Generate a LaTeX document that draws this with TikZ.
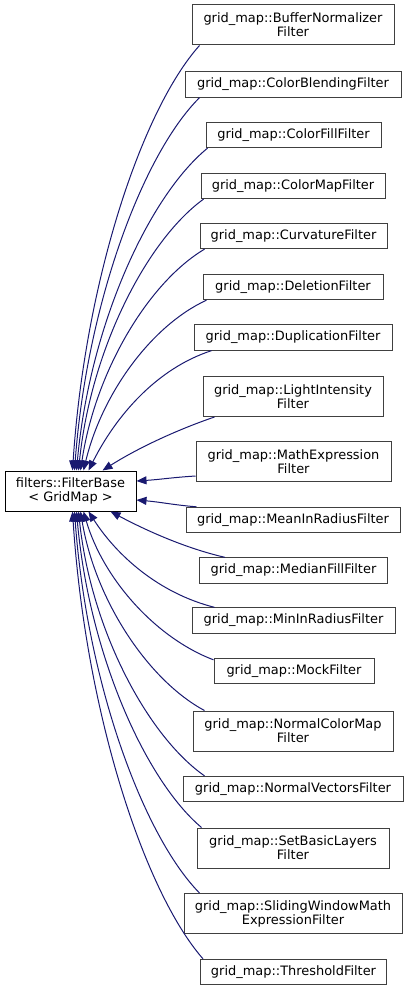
\documentclass[tikz,border=0pt]{standalone}
\usepackage{fontspec}
\setmainfont{DejaVu Sans}
\usetikzlibrary{calc,arrows.meta}
\definecolor{edgeblue}{HTML}{191970}
\definecolor{boxgray}{HTML}{404040}
\newcommand\inhedge[6]{%
  \draw[inh] let \p1=(#1), \p2=(#2) in (\p1) .. controls ({\x1+#3*(\x2-\x1)},{\y1+#4*(\y2-\y1)}) and ({\x2+#5*(\x1-\x2)},{\y2+#6*(\y1-\y2)}) .. (\p2);}
\begin{document}
\begin{tikzpicture}[x=0.75pt,y=-0.75pt,
  cls/.style={draw=boxgray, line width=0.75pt, fill=white, inner sep=0pt, align=center,
    font=\fontsize{9.7}{10.6}\selectfont, minimum height=19pt},
  two/.style={minimum height=30pt},
  inh/.style={draw=edgeblue, line width=0.75pt, -{Triangle[length=7.5pt,width=6pt]}}]
\useasboundingbox (0,0) rectangle (408,991);
\node[cls, draw=black, two, minimum width=98.25pt] (base) at (70.5,491) {filters::FilterBase\\< GridMap >};
\node[cls, two, minimum width=151.5pt] (b1) at (293,25) {grid\_map::BufferNormalizer\\Filter};
\node[cls, minimum width=162pt] (b2) at (293,84.5) {grid\_map::ColorBlendingFilter};
\node[cls, minimum width=131.25pt] (b3) at (293.5,135) {grid\_map::ColorFillFilter};
\node[cls, minimum width=138pt] (b4) at (293,186) {grid\_map::ColorMapFilter};
\node[cls, minimum width=140.25pt] (b5) at (293.5,236) {grid\_map::CurvatureFilter};
\node[cls, minimum width=135pt] (b6) at (293,287) {grid\_map::DeletionFilter};
\node[cls, minimum width=148.5pt] (b7) at (293,337.5) {grid\_map::DuplicationFilter};
\node[cls, two, minimum width=135pt] (b8) at (293,396.5) {grid\_map::LightIntensity\\Filter};
\node[cls, two, minimum width=146.25pt] (b9) at (293.5,461.5) {grid\_map::MathExpression\\Filter};
\node[cls, minimum width=160.5pt] (b10) at (293,520) {grid\_map::MeanInRadiusFilter};
\node[cls, minimum width=141pt] (b11) at (293.5,570.5) {grid\_map::MedianFillFilter};
\node[cls, minimum width=152.25pt] (b12) at (293.5,620.5) {grid\_map::MinInRadiusFilter};
\node[cls, minimum width=120pt] (b13) at (294,671) {grid\_map::MockFilter};
\node[cls, two, minimum width=150pt] (b14) at (293,731) {grid\_map::NormalColorMap\\Filter};
\node[cls, minimum width=165pt] (b15) at (293,789) {grid\_map::NormalVectorsFilter};
\node[cls, two, minimum width=144pt] (b16) at (293,848) {grid\_map::SetBasicLayers\\Filter};
\node[cls, two, minimum width=163.5pt] (b17) at (293,913.5) {grid\_map::SlidingWindowMath\\ExpressionFilter};
\node[cls, minimum width=139.5pt] (b18) at (293.5,972) {grid\_map::ThresholdFilter};
% edges
\inhedge{$(b1.south west)+(8,0)$}{$(base.north west)+(68,0)$}{0.45}{0.15}{0.1}{0.45}
\inhedge{$(b2.south west)+(15,0)$}{$(base.north west)+(70,0)$}{0.45}{0.15}{0.1}{0.45}
\inhedge{$(b3.south west)+(2,0)$}{$(base.north west)+(72,0)$}{0.45}{0.15}{0.1}{0.45}
\inhedge{$(b4.south west)+(3,0)$}{$(base.north west)+(74,0)$}{0.45}{0.15}{0.1}{0.45}
\inhedge{$(b5.south west)+(5,0)$}{$(base.north west)+(76,0)$}{0.45}{0.15}{0.12}{0.45}
\inhedge{$(b6.south west)+(4,0)$}{$(base.north west)+(79,0)$}{0.45}{0.15}{0.15}{0.45}
\inhedge{$(b7.south west)+(18,0)$}{$(base.north west)+(84,0)$}{0.45}{0.15}{0.22}{0.45}
\inhedge{$(b8.south west)+(12,0)$}{$(base.north west)+(98,0)$}{0.35}{0.25}{0.3}{0.4}
\inhedge{$(b9.south west)+(0,-6)$}{$(base.east)+(0,-10)$}{0.4}{0.3}{0.4}{0.3}
\inhedge{$(b10.north west)+(11,0)$}{$(base.east)+(0,9)$}{0.4}{0.3}{0.4}{0.3}
\inhedge{$(b11.north west)+(26,0)$}{$(base.south west)+(106,0)$}{0.35}{0.2}{0.3}{0.4}
\inhedge{$(b12.north west)+(23,0)$}{$(base.south west)+(84,0)$}{0.45}{0.15}{0.22}{0.45}
\inhedge{$(b13.north west)+(0,2)$}{$(base.south west)+(79,0)$}{0.45}{0.15}{0.15}{0.45}
\inhedge{$(b14.north west)+(12,0)$}{$(base.south west)+(76,0)$}{0.45}{0.15}{0.12}{0.45}
\inhedge{$(b15.north west)+(22,0)$}{$(base.south west)+(74,0)$}{0.45}{0.15}{0.1}{0.45}
\inhedge{$(b16.north west)+(5,0)$}{$(base.south west)+(72,0)$}{0.45}{0.15}{0.1}{0.45}
\inhedge{$(b17.north west)+(16,0)$}{$(base.south west)+(70,0)$}{0.45}{0.15}{0.1}{0.45}
\inhedge{$(b18.north west)+(3,0)$}{$(base.south west)+(68,0)$}{0.45}{0.15}{0.1}{0.45}
\end{tikzpicture}
\end{document}
